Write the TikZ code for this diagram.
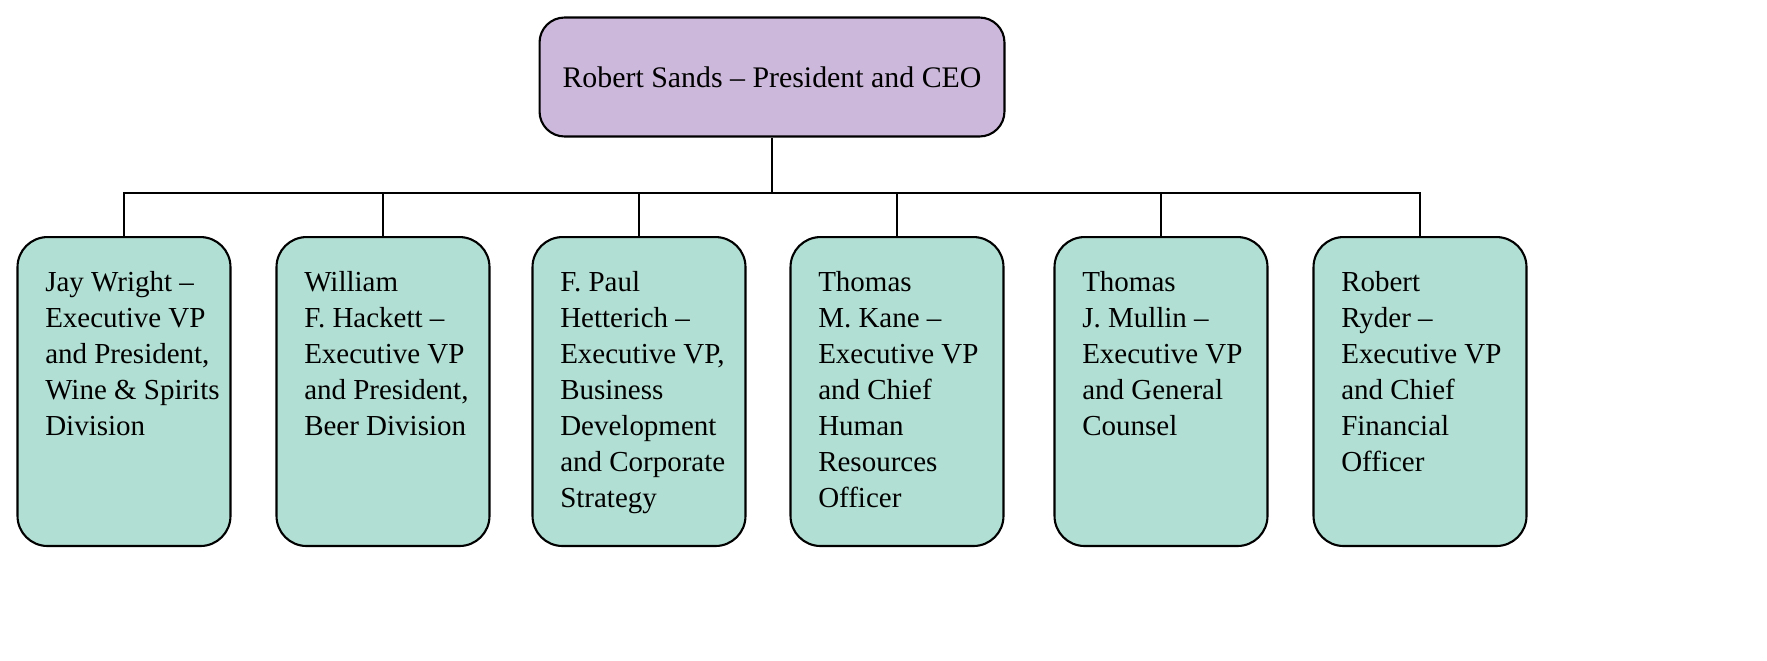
\documentclass[tikz,border=0pt]{standalone}
\usepackage{fontspec}
\setmainfont{Liberation Serif}
\usetikzlibrary{positioning}
\definecolor{ceofill}{RGB}{204,184,218}
\definecolor{vpfill}{RGB}{178,223,211}
\tikzset{ceo/.style = {rectangle, rounded corners=0.5cm, draw=black, line width=1.2pt, fill=ceofill, minimum width=9.3cm, minimum height=2.38cm, font=\fontsize{17}{20}\selectfont},
  vp/.style = {rectangle, rounded corners=0.6cm, draw=black, line width=1.2pt, fill=vpfill, minimum width=4.26cm, minimum height=6.18cm, inner sep=0pt, anchor=north, font=\fontsize{16.5}{20.5}\selectfont},
  edge/.style = {line width=1.4pt}}
\newcommand{\vptext}[1]{\hspace*{0.55cm}\parbox[t][4.82cm][t]{3.7cm}{\raggedright #1}}
\begin{document}
\begin{tikzpicture}[x=0.02cm, y=-0.02cm]
\useasboundingbox (0,0) rectangle (1767,660);

\node (ceo) [ceo] at (772,77) {Robert Sands -- President and CEO};
\node (wright) [vp] at (124,236) {\vptext{Jay Wright --\\ Executive VP\\ and President,\\ Wine \& Spirits\\ Division}};
\node (hackett) [vp] at (383,236) {\vptext{William\\ F.~Hackett --\\ Executive VP\\ and President,\\ Beer Division}};
\node (hetterich) [vp] at (639,236) {\vptext{F.~Paul\\ Hetterich --\\ Executive VP,\\ Business\\ Development\\ and Corporate\\ Strategy}};
\node (kane) [vp] at (897,236) {\vptext{Thomas\\ M.~Kane --\\ Executive VP\\ and Chief\\ Human\\ Resources\\ Officer}};
\node (mullin) [vp] at (1161,236) {\vptext{Thomas\\ J.~Mullin --\\ Executive VP\\ and General\\ Counsel}};
\node (ryder) [vp] at (1420,236) {\vptext{Robert\\ Ryder --\\ Executive VP\\ and Chief\\ Financial\\ Officer}};
\coordinate (bar) at (772,193);

\draw [edge] (ceo) -- (bar);
\foreach \n in {wright, hackett, hetterich, kane, mullin, ryder}
  \draw [edge] (\n.north) |- (bar);

\end{tikzpicture}
\end{document}
